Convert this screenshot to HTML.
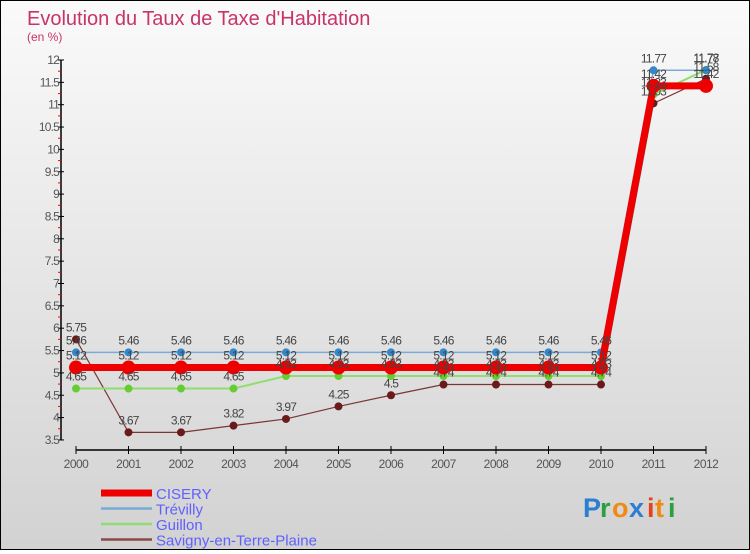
<!DOCTYPE html>
<html><head><meta charset="utf-8">
<style>
html,body{margin:0;padding:0}
body{width:750px;height:550px;overflow:hidden;font-family:"Liberation Sans",sans-serif}
#wrap{position:relative;width:748px;height:548px;border:1px solid #000;background:linear-gradient(#fafafa,#d2d2d2)}
</style></head><body>
<div id="wrap">
<svg id="chart" width="748" height="548" viewBox="0 0 748 548">
<text x="26" y="24" font-size="20" fill="#c8336a">Evolution du Taux de Taxe d'Habitation</text>
<text x="26" y="40" font-size="12" fill="#c8336a">(en %)</text>
<g id="axes"></g>
<g id="series"></g>
<g id="legend"></g>
<g font-size="27" font-weight="bold">
<text x="582" y="516" fill="#2c7fd0">P</text><text x="599" y="516" fill="#2aa040">r</text><text x="611" y="516" fill="#f08a10">o</text><text x="628" y="516" fill="#2c7fd0">x</text><text x="646" y="516" fill="#e8401c">i</text><text x="654" y="516" fill="#f08a10">t</text><text x="667" y="516" fill="#2aa040">i</text>
</g>
</svg>
</div>
<script>
const years=["2000","2001","2002","2003","2004","2005","2006","2007","2008","2009","2010","2011","2012"];
const yTicks=[3.5,4,4.5,5,5.5,6,6.5,7,7.5,8,8.5,9,9.5,10,10.5,11,11.5,12];
const cisery=[5.12,5.12,5.12,5.12,5.12,5.12,5.12,5.12,5.12,5.12,5.12,11.42,11.42];
const trevilly=[5.46,5.46,5.46,5.46,5.46,5.46,5.46,5.46,5.46,5.46,5.46,11.77,11.77];
const guillon=[4.65,4.65,4.65,4.65,4.93,4.93,4.93,4.93,4.93,4.93,4.93,11.23,11.78];
const savigny=[5.75,3.67,3.67,3.82,3.97,4.25,4.5,4.74,4.74,4.74,4.74,11.03,11.58];
const seriesNames=["CISERY","Trévilly","Guillon","Savigny-en-Terre-Plaine"];
const NS="http://www.w3.org/2000/svg";
function X(i){return 75+i*52.5;}
function Y(v){return 59+(12-v)*44.7;}
function el(t,a,p){const e=document.createElementNS(NS,t);for(const k in a)e.setAttribute(k,a[k]);p.appendChild(e);return e;}
const ax=document.getElementById('axes');
let l=el('line',{x1:60,y1:Y(12),x2:60,y2:Y(3.5),stroke:'#000','stroke-width':1.5},ax);


yTicks.forEach(v=>{
 el('line',{x1:57,y1:Y(v),x2:63,y2:Y(v),stroke:'#000'},ax);
 if(v<12) el('line',{x1:57,y1:Y(v+0.25),x2:60,y2:Y(v+0.25),stroke:'#f00'},ax);
 const t=el('text',{x:58,y:Y(v)+4,'font-size':12,'text-anchor':'end',fill:'#555','letter-spacing':'-0.8'},ax);
 t.textContent=String(v);
 
 
});
l=el('line',{x1:X(0),y1:449,x2:X(12),y2:449,stroke:'#000','stroke-width':1.5},ax);


years.forEach((y,i)=>{
 el('line',{x1:X(i),y1:445,x2:X(i),y2:453,stroke:'#000'},ax);
 const t=el('text',{x:X(i),y:467,'font-size':12,'text-anchor':'middle',fill:'#555','letter-spacing':'-0.5'},ax);
 t.textContent=y;
 
 
});
const sg=document.getElementById('series');
const defs=[[savigny,'#7a3535','#6a1a1a',1.2,4,'savigny'],[guillon,'#90dd70','#66cc33',2,4,'guillon'],[trevilly,'#7aaad6','#3388cc',1.5,4,'trevilly'],[cisery,'#ee0000','#ee0000',7,7,'cisery']];
defs.forEach(d=>{
 const g=el('g',{},sg);
 
 
 const pl=el('polyline',{points:d[0].map((v,i)=>X(i)+','+Y(v)).join(' '),fill:'none',stroke:d[1],'stroke-width':d[3]},g);
 
 
 d[0].forEach((v,i)=>{
  const c=el('circle',{cx:X(i),cy:Y(v),r:d[4],fill:d[2]},g);
  
  
 });
});
defs.forEach(d=>{
 d[0].forEach((v,i)=>{
  const t=el('text',{x:X(i),y:Y(v)-8,'font-size':12,'text-anchor':'middle',fill:'#444','letter-spacing':'-0.8'},sg);
  t.textContent=String(v);
  
  
 });
});
const lg=document.getElementById('legend');
const lcol=['#ee0000','#7aaad6','#90dd70','#8a4a4a'],lw=[7,2.5,2.5,2.5];
seriesNames.forEach((n,i)=>{
 const yy=492+i*15.5;
 const g=el('g',{},lg);
 
 
 el('line',{x1:100,y1:yy,x2:151,y2:yy,stroke:lcol[i],'stroke-width':lw[i]},g);
 const t=el('text',{x:155,y:yy+6,'font-size':15,fill:'#6060ff'},g);
 t.textContent=n;
});
</script>
</body></html>
